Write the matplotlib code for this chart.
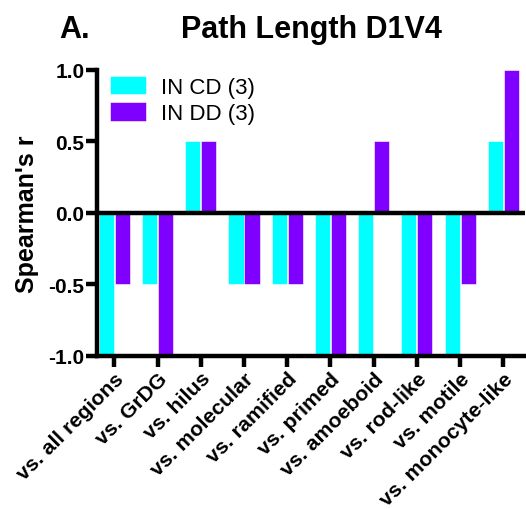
import matplotlib
matplotlib.use("Agg")
import matplotlib.pyplot as plt
import matplotlib.transforms as mtransforms
import numpy as np

plt.rcParams['font.family'] = ['Liberation Sans', 'DejaVu Sans']

categories = ['vs. all regions', 'vs. GrDG', 'vs. hilus', 'vs. molecular', 'vs. ramified',
              'vs. primed', 'vs. amoeboid', 'vs. rod-like', 'vs. motile', 'vs. monocyte-like']
in_cd = [-1.0, -0.5, 0.5, -0.5, -0.5, -1.0, -1.0, -1.0, -1.0, 0.5]
in_dd = [-0.5, -1.0, 0.5, -0.5, -0.5, -1.0, 0.5, -1.0, -0.5, 1.0]
series_labels = ['IN CD (3)', 'IN DD (3)']
yticks = [-1.0, -0.5, 0.0, 0.5, 1.0]

fig = plt.figure(figsize=(5.26, 5.10), dpi=100)
ax = fig.add_axes([0.1844, 0.30, 0.8136, 0.561])

x = np.arange(len(categories))
w = 0.35
ax.bar(x - w/2 - 0.01, in_cd, w, color='#00FFFF', edgecolor='white', linewidth=0.4, label=series_labels[0])
ax.bar(x + w/2 + 0.01, in_dd, w, color='#7F00FF', edgecolor='white', linewidth=0.4, label=series_labels[1])

ax.axhline(0, color='black', lw=3.2, zorder=3)
ax.set_xlim(-0.4, 9.5)
ax.set_ylim(-1, 1)
ax.set_yticks(yticks)
ax.set_yticklabels(['%.1f' % v for v in yticks], fontweight='bold', fontsize=15)
ax.set_xticks(x)
ax.set_xticklabels(categories, rotation=45, ha='right', rotation_mode='anchor',
                   fontweight='bold', fontsize=15.3)
# nudge the slanted labels a little left/up
offset = mtransforms.ScaledTranslation(-0.06, 0.03, fig.dpi_scale_trans)
for lab in ax.get_xticklabels():
    lab.set_transform(lab.get_transform() + offset)

for s in ['top', 'right']:
    ax.spines[s].set_visible(False)
for s in ['left', 'bottom']:
    ax.spines[s].set_linewidth(3.2)
ax.tick_params(axis='both', width=3.2, length=8)
ax.tick_params(axis='y', pad=1)
ax.tick_params(axis='x', pad=1)

ax.set_ylabel("Spearman's r", fontweight='bold', fontsize=18, labelpad=7)
ax.set_title('Path Length D1V4', fontweight='bold', fontsize=22, pad=24)
fig.text(0.112, 0.925, 'A.', fontweight='bold', fontsize=22)

ax.legend(loc='upper left', frameon=False, fontsize=16, handlelength=1.6, handleheight=0.9,
          borderaxespad=0.0, bbox_to_anchor=(0.01, 1.01), labelspacing=0.2, handletextpad=0.7)

fig.savefig('out.png', dpi=100)
